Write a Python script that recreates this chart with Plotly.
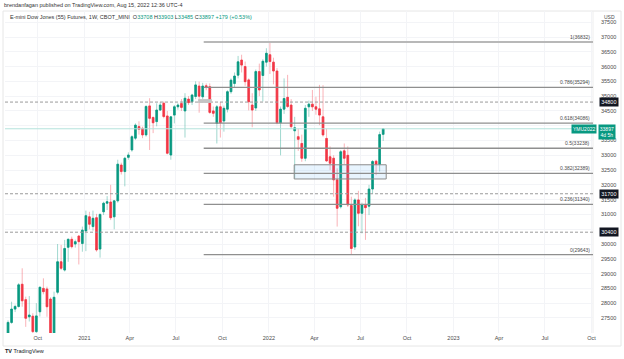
import plotly.graph_objects as go
import pandas as pd

# ---------------- data (weekly E-mini Dow futures) ----------------
week_start = "2020-08-03"
opens = [26940, 27350, 27800, 27890, 28640, 28120, 27540, 27560, 27040, 27710,
         28500, 28480, 28140, 26450, 28370, 29400, 29120, 29890, 30160, 30000,
         30270, 30020, 30440, 30920, 30590, 30890, 29830, 31090, 31380, 31420,
         30920, 31460, 32670, 32450, 32930, 33180, 33580, 33970, 33910, 33690,
         34670, 34280, 34140, 34530, 34760, 34330, 33010, 34360, 34640, 34750,
         34500, 34900, 34810, 34990, 35340, 34980, 35350, 35320, 34500, 34080,
         34640, 34160, 34560, 35150, 35430, 35710, 36220, 36000, 35550, 34700,
         34600, 35830, 35700, 36150, 36400, 36150, 35850, 34100, 34560, 34960,
         34700, 33830, 33630, 33400, 32900, 34640, 34730, 34640, 34570, 34300,
         33570, 32950, 32900, 32170, 31260, 33150, 33000, 31300, 29900, 31490,
         31040, 31310, 31280, 31860, 32800, 32700, 33708]
highs = [27420, 28050, 27950, 28680, 29180, 28220, 28240, 27660, 28000, 28560,
         28840, 28560, 28200, 28390, 30000, 29970, 30140, 30190, 30250, 30150,
         30300, 30590, 31130, 31090, 31130, 31020, 31040, 31430, 31620, 32000,
         31480, 32850, 32750, 32950, 33100, 33680, 34080, 34150, 33970, 34700,
         34930, 34310, 34760, 34800, 34820, 34500, 34330, 34700, 34760, 34900,
         35100, 35000, 35080, 35500, 35490, 35450, 35430, 35430, 34650, 34700,
         34800, 34680, 35200, 35600, 35800, 36360, 36400, 36170, 35600, 35100,
         35900, 36100, 36250, 36620, 36800, 36300, 35950, 34650, 35600, 35720,
         34900, 34300, 33900, 33700, 34700, 34850, 35210, 34980, 35380, 35370,
         33900, 33300, 33000, 32560, 33180, 33400, 33300, 31600, 31550, 31800,
         31400, 31560, 32000, 32840, 32850, 33800, 33903]
lows = [26850, 27300, 27700, 27850, 27880, 27200, 27380, 26600, 26980, 27550,
        28300, 27540, 26100, 26300, 28300, 29120, 29070, 29400, 29850, 29880,
        29310, 29740, 29760, 30500, 30450, 29740, 29540, 30980, 31150, 30810,
        30500, 31400, 32350, 31950, 32850, 33120, 33520, 33700, 33580, 33630,
        33180, 33750, 33980, 34500, 34250, 33030, 32850, 34080, 34540, 34500,
        33600, 34700, 34700, 34900, 34440, 34900, 35200, 34400, 34300, 33400,
        33600, 33800, 34450, 35080, 35300, 35600, 35800, 35350, 34520, 33950,
        34500, 35000, 34820, 36000, 35750, 35400, 34050, 33000, 34400, 34600,
        33900, 32220, 33150, 32780, 32800, 34300, 34500, 34370, 34020, 33630,
        32780, 32500, 31600, 30590, 31200, 32700, 31250, 29640, 29800, 30600,
        30360, 30140, 30980, 31700, 32330, 32450, 33485]
closes = [27350, 27800, 27890, 28620, 28080, 27490, 27600, 27040, 27570, 28540,
          28390, 27880, 26400, 28200, 29400, 29180, 29850, 30160, 29910, 30080,
          30080, 30470, 30960, 30670, 30870, 29800, 31000, 31380, 31430, 30890,
          31460, 32700, 32450, 32900, 33010, 33630, 34020, 33880, 33690, 34650,
          34250, 34100, 34530, 34700, 34310, 33070, 34300, 34640, 34700, 34620,
          34930, 34780, 35040, 35380, 35000, 35340, 35290, 34450, 34420, 34640,
          34100, 34590, 35150, 35540, 35680, 36160, 36050, 35490, 34810, 34530,
          35830, 35210, 36180, 36450, 36170, 35850, 34100, 34560, 34920, 34650,
          33970, 33930, 33540, 32900, 34590, 34730, 34640, 34560, 34360, 33690,
          32810, 32730, 32170, 31210, 33120, 32900, 31320, 29850, 31490, 31040,
          31320, 31230, 31860, 32790, 32700, 33700, 33897]

fib_ratios = ["1", "0.786", "0.618", "0.5", "0.382", "0.236", "0"]
fib_prices = [36832, 35294, 34086, 33238, 32389, 31340, 29643]
fib_start = "2021-08-25"

dashed_levels = [34800, 31700, 30400]
last_price = 33897
contract = "YMU2022"
countdown = "4d 5h"

box_x = ["2022-02-20", "2022-08-21"]
box_y = [32200, 32680]
small_box_x = ["2021-08-14", "2021-09-10"]
small_box_y = [34770, 34900]

x_tick_vals = ["2020-10-01", "2021-01-01", "2021-04-01", "2021-07-01", "2021-10-01",
               "2022-01-01", "2022-04-01", "2022-07-01", "2022-10-01", "2023-01-01",
               "2023-04-01", "2023-07-01", "2023-10-01"]
x_tick_text = ["Oct", "2021", "Apr", "Jul", "Oct", "2022", "Apr", "Jul", "Oct", "2023",
               "Apr", "Jul", "Oct"]
y_tick_vals = list(range(27500, 37501, 500))
# price-scale labels hidden under the coloured price tags in the original
y_hidden = [34000, 30500]

x_range = ["2020-07-28", "2023-10-04"]
y_range = [26992, 37879]

header1 = "brendanfagan published on TradingView.com, Aug 15, 2022 12:36 UTC-4"
title_txt = "E-mini Dow Jones (55) Futures, 1W, CBOT_MINI"
ohlc_txt = [("O", "33708"), ("H", "33903"), ("L", "33485"), ("C", "33897")]
change_txt = "+179 (+0.53%)"

# ---------------- styling ----------------
UP = "#089981"
DN = "#F23645"
UP_W = "rgba(8,153,129,0.38)"
DN_W = "rgba(242,54,69,0.38)"
TXT = "#4a4a4a"
FONT = "Liberation Sans, Arial, sans-serif"

dates = pd.date_range(week_start, periods=len(opens), freq="7D")
body_hi = [max(o, c) for o, c in zip(opens, closes)]
body_lo = [min(o, c) for o, c in zip(opens, closes)]

W, H = 624, 359
L_, R_, T_, B_ = 5, 31, 11, 26
PW, PH = W - L_ - R_, H - T_ - B_


def px(xp):
    return (xp - L_) / PW


def py(yp):
    return (H - B_ - yp) / PH


fig = go.Figure()
fig.add_trace(go.Candlestick(
    x=dates, open=opens, high=highs, low=lows, close=closes,
    increasing=dict(line=dict(color=UP_W, width=1), fillcolor=UP_W),
    decreasing=dict(line=dict(color=DN_W, width=1), fillcolor=DN_W),
    whiskerwidth=0, hoverinfo="skip", showlegend=False))
fig.add_trace(go.Candlestick(
    x=dates, open=opens, high=body_hi, low=body_lo, close=closes,
    increasing=dict(line=dict(color=UP, width=0.6), fillcolor=UP),
    decreasing=dict(line=dict(color=DN, width=0.6), fillcolor=DN),
    whiskerwidth=0, hoverinfo="skip", showlegend=False))

shapes = []
# frame
shapes.append(dict(type="rect", xref="paper", yref="paper", x0=px(3), x1=px(621),
                   y0=py(346), y1=py(11), line=dict(color="#e6e6e6", width=1),
                   fillcolor="rgba(0,0,0,0)", layer="below"))
shapes.append(dict(type="line", xref="paper", yref="paper", x0=1, x1=1, y0=0, y1=1,
                   line=dict(color="#eeeeee", width=1), layer="below"))
# dashed levels
for lv in dashed_levels:
    shapes.append(dict(type="line", xref="paper", yref="y", x0=0, x1=1, y0=lv, y1=lv,
                       line=dict(color="#9a9a9a", width=1, dash="3px,2px")))
# last price line
shapes.append(dict(type="line", xref="paper", yref="y", x0=0, x1=1, y0=last_price,
                   y1=last_price, line=dict(color="#b4e3dc", width=1)))
# rectangle zone
shapes.append(dict(type="rect", xref="x", yref="y", x0=box_x[0], x1=box_x[1],
                   y0=box_y[0], y1=box_y[1], fillcolor="rgba(33,150,243,0.10)",
                   line=dict(color="#8c8c8c", width=1)))
shapes.append(dict(type="rect", xref="x", yref="y", x0=small_box_x[0], x1=small_box_x[1],
                   y0=small_box_y[0], y1=small_box_y[1], fillcolor="#c4c4c4",
                   line=dict(width=0)))
# fib levels
for r, p in zip(fib_ratios, fib_prices):
    col = "#b8b8b8" if r == "1" else "#8f8f8f"
    wd = 2 if r == "1" else 1.3
    shapes.append(dict(type="line", xref="x", yref="y", x0=fib_start, x1=x_range[1],
                       y0=p, y1=p, line=dict(color=col, width=wd)))

annotations = []
for r, p in zip(fib_ratios, fib_prices):
    annotations.append(dict(x=px(592), xref="paper", y=p, yref="y", text=f"{r}({p})",
                            showarrow=False, xanchor="right", yanchor="bottom", yshift=0,
                            font=dict(size=5, color=TXT, family=FONT)))
for lv in dashed_levels:
    annotations.append(dict(x=px(608.5), xref="paper", y=lv, yref="y", text=str(lv),
                            showarrow=False, xanchor="center", yanchor="middle",
                            bgcolor="#131722", borderpad=1.2,
                            font=dict(size=5.5, color="white", family=FONT)))
annotations.append(dict(x=px(607), xref="paper", y=last_price, yref="y",
                        text=f"{last_price}<br>{countdown}", showarrow=False,
                        xanchor="center", yanchor="top", yshift=5, bgcolor=UP,
                        borderpad=0.8, align="center",
                        font=dict(size=5, color="white", family=FONT)))
annotations.append(dict(x=px(583.5), xref="paper", y=last_price, yref="y",
                        text=contract, showarrow=False, xanchor="center",
                        yanchor="middle", bgcolor=UP, borderpad=1,
                        font=dict(size=5, color="white", family=FONT)))
annotations.append(dict(x=px(602), xref="paper", y=py(17), yref="paper", text="USD",
                        showarrow=False, xanchor="left", yanchor="middle",
                        font=dict(size=5, color=TXT, family=FONT)))
annotations.append(dict(x=px(2), xref="paper", y=py(5), yref="paper", text=header1,
                        showarrow=False, xanchor="left", yanchor="middle",
                        font=dict(size=5.5, color="#333333", family=FONT)))
legend = title_txt + "  " + " ".join(
    f"{k}<span style='color:{UP}'>{v}</span>" for k, v in ohlc_txt) + \
    f" <span style='color:{UP}'>{change_txt}</span>"
annotations.append(dict(x=px(8), xref="paper", y=py(17), yref="paper", text=legend,
                        showarrow=False, xanchor="left", yanchor="middle",
                        font=dict(size=5.5, color="#333333", family=FONT)))
annotations.append(dict(x=px(3), xref="paper", y=py(351), yref="paper",
                        text="<b>TV</b> TradingView", showarrow=False, xanchor="left",
                        yanchor="middle", font=dict(size=5.5, color="#131722", family=FONT)))

fig.update_layout(
    width=W, height=H, margin=dict(l=L_, r=R_, t=T_, b=B_),
    paper_bgcolor="white", plot_bgcolor="white", showlegend=False,
    shapes=shapes, annotations=annotations,
    font=dict(family=FONT, size=5.5, color=TXT),
    xaxis=dict(type="date", range=x_range, rangeslider=dict(visible=False),
               tickvals=x_tick_vals, ticktext=x_tick_text, showgrid=True,
               gridcolor="#f3f4f7", gridwidth=1, zeroline=False, showline=False,
               ticks="", tickfont=dict(size=5.5, color=TXT)),
    yaxis=dict(side="right", range=y_range, tickvals=y_tick_vals,
               ticktext=["" if v in y_hidden else str(v) for v in y_tick_vals],
               showgrid=True, gridcolor="#f3f4f7", gridwidth=1, zeroline=False,
               showline=False, ticks="", ticklabelstandoff=7,
               tickfont=dict(size=5.5, color=TXT)),
)

fig.write_html("out.html", config={"displayModeBar": False},
               post_script="document.body.style.margin='0';document.body.style.padding='0';")
